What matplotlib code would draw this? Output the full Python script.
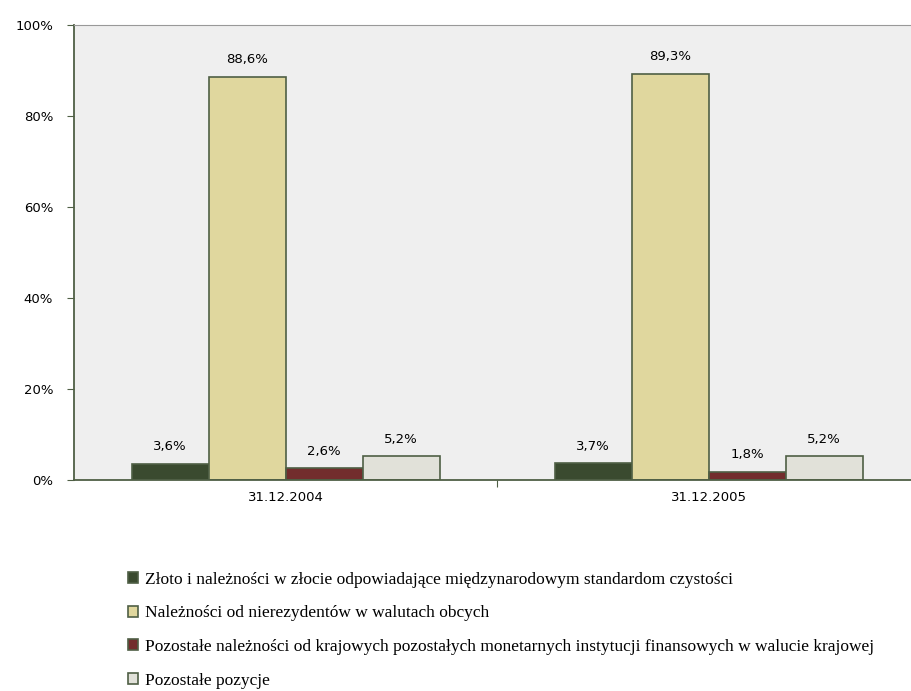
import matplotlib.pyplot as plt
import numpy as np

dates = ["31.12.2004", "31.12.2005"]
series_names = [
    "Złoto i należności w złocie odpowiadające międzynarodowym standardom czystości",
    "Należności od nierezydentów w walutach obcych",
    "Pozostałe należności od krajowych pozostałych monetarnych instytucji finansowych w walucie krajowej",
    "Pozostałe pozycje",
]
zloto = [3.6, 3.7]
nierezydenci = [88.6, 89.3]
krajowe = [2.6, 1.8]
pozostale = [5.2, 5.2]

colors = ["#3a4a2f", "#e0d79e", "#722d2d", "#e1e1d9"]
edge = "#4f5f45"

fig = plt.figure(figsize=(9.11, 6.91), dpi=100)
ax = fig.add_axes([74 / 911, 1 - 480 / 691, 837 / 911, 455 / 691])
ax.set_facecolor("#efefef")

x = np.arange(len(dates))
w = 0.182
values = [zloto, nierezydenci, krajowe, pozostale]
handles = []
for i, vals in enumerate(values):
    pos = x + (i - 1.5) * w
    b = ax.bar(pos, vals, w, color=colors[i], edgecolor=edge, linewidth=1.2, label=series_names[i])
    handles.append(b)
    for px, v in zip(pos, vals):
        ax.text(px, v + 2.3, ("%.1f%%" % v).replace(".", ","), ha="center", va="bottom",
                fontsize=9.5, family="DejaVu Sans")

ax.set_xlim(-0.5, 1.478)
ax.set_ylim(0, 100)
ax.set_yticks(np.arange(0, 101, 20))
ax.set_yticklabels(["%d%%" % t for t in range(0, 101, 20)], fontsize=9.5)
ax.set_xticks([0.5])
ax.set_xticklabels([])
ax.set_xticks(x, minor=True)
ax.set_xticklabels(dates, minor=True, fontsize=9.5)
ax.tick_params(axis="x", which="minor", length=0, pad=8)
ax.tick_params(axis="x", which="major", length=5, color=edge)
ax.tick_params(axis="y", length=5, color=edge, pad=10)

ax.spines["left"].set_color(edge)
ax.spines["left"].set_linewidth(1.3)
ax.spines["bottom"].set_color(edge)
ax.spines["bottom"].set_linewidth(1.3)
ax.spines["top"].set_color("#999999")
ax.spines["right"].set_visible(False)

fig.legend(handles=handles, loc="upper left", bbox_to_anchor=(112 / 911, 1 - 556 / 691),
           frameon=False, prop={"family": "Liberation Serif", "size": 12.5},
           handlelength=0.6, handleheight=0.6, handletextpad=0.4, labelspacing=1.02)

fig.savefig("out.png", dpi=100)
